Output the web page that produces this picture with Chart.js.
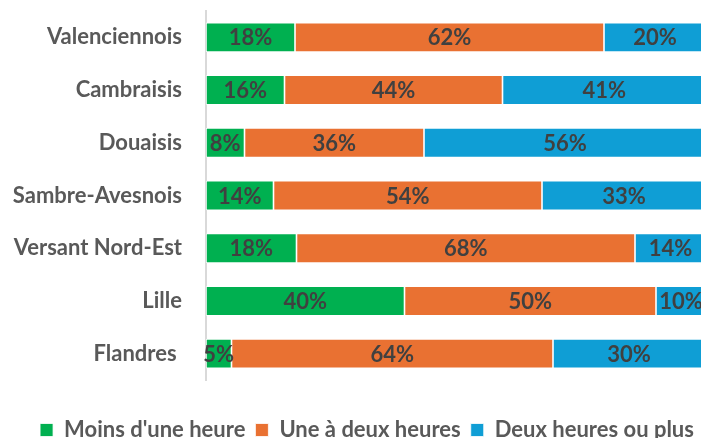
<!DOCTYPE html>
<html>
<head>
<meta charset="utf-8">
<script src="https://cdn.jsdelivr.net/npm/chart.js@4.4.1/dist/chart.umd.min.js"></script>
<style>
  html, body { margin: 0; padding: 0; background: #fff; overflow: hidden; }
  #wrap { position: relative; width: 706px; height: 451px; }
</style>
</head>
<body>
<div id="wrap"><canvas id="chart"></canvas></div>
<script>
const regions = ['Valenciennois', 'Cambraisis', 'Douaisis', 'Sambre-Avesnois', 'Versant Nord-Est', 'Lille', 'Flandres '];
const lessThanHour = [17.8, 15.7, 7.7, 13.5, 18.1, 39.7, 5.1];
const oneToTwoHours = [61.8, 43.6, 35.9, 53.7, 67.7, 50.3, 64.3];
const twoHoursOrMore = [20.4, 40.7, 56.4, 32.8, 14.2, 10.0, 30.4];
const seriesNames = ["Moins d'une heure", 'Une à deux heures', 'Deux heures ou plus'];
const seriesColors = ['#00B050', '#E97132', '#0F9ED5'];

const FONT = 'Lato, "Open Sans", sans-serif';

const barLabels = {
  id: 'barLabels',
  afterLayout(chart) {
    // nudge the legend a little to the right, like the original layout
    chart.legend.left += 10;
    chart.legend.right += 10;
  },
  afterDatasetsDraw(chart) {
    const ctx = chart.ctx;
    ctx.save();
    ctx.font = `bold 22px ${FONT}`;
    ctx.fillStyle = '#404040';
    ctx.textAlign = 'center';
    ctx.textBaseline = 'middle';
    chart.data.datasets.forEach((dataset, i) => {
      const meta = chart.getDatasetMeta(i);
      meta.data.forEach((bar, j) => {
        const value = dataset.data[j];
        const cx = (bar.x + bar.base) / 2;
        ctx.fillText(Math.round(value) + '%', cx, bar.y + 1);
      });
    });
    ctx.restore();
  }
};

function makeDataset(index, values) {
  return {
    label: seriesNames[index],
    data: values,
    backgroundColor: seriesColors[index],
    borderColor: '#ffffff',
    borderWidth: 0.8,
    borderSkipped: false,
    barPercentage: 0.56,
    categoryPercentage: 1
  };
}

new Chart(document.getElementById('chart'), {
  type: 'bar',
  data: {
    labels: regions,
    datasets: [
      makeDataset(0, lessThanHour),
      makeDataset(1, oneToTwoHours),
      makeDataset(2, twoHoursOrMore)
    ]
  },
  options: {
    indexAxis: 'y',
    animation: false,
    responsive: true,
    maintainAspectRatio: false,
    layout: { padding: { left: 8, top: 11, right: 0, bottom: 0 } },
    plugins: {
      legend: {
        position: 'bottom',
        labels: {
          boxWidth: 13,
          boxHeight: 13,
          padding: 10,
          color: '#595959',
          font: { family: FONT, size: 22, weight: 'bold' }
        }
      },
      tooltip: { enabled: false }
    },
    scales: {
      x: {
        stacked: true,
        min: 0,
        max: 100,
        grid: { display: false },
        border: { display: false },
        ticks: { display: false },
        afterFit(scale) { scale.height = 29; }
      },
      y: {
        stacked: true,
        grid: { display: false, drawTicks: false },
        border: { display: true, color: '#d9d9d9', width: 2 },
        ticks: {
          padding: 24,
          color: '#595959',
          font: { family: FONT, size: 22, weight: 'bold' }
        },
        afterFit(scale) {
          scale.width = 198;
          scale.paddingTop = 0;
          scale.paddingBottom = 0;
        }
      }
    }
  },
  plugins: [barLabels]
});
</script>
</body>
</html>
